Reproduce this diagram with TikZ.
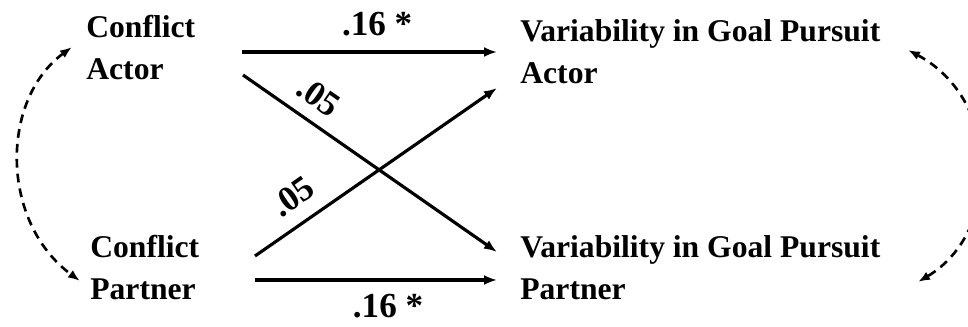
\documentclass[tikz,border=0pt]{standalone}
\usepackage{fontspec}
\setmainfont{Liberation Serif}
\usetikzlibrary{arrows.meta, positioning, calc}

\begin{document}
\begin{tikzpicture}[
		x=0.02cm, y=-0.02cm,
		% Estilos del modelo actor-partner
		var/.style = {inner sep=0pt, anchor=base west, align=left, font=\fontsize{18}{24}\selectfont\bfseries},
		coef/.style = {font=\fontsize{20}{24}\selectfont\bfseries, inner sep=3pt},
		path/.style = {line width=1.8pt, -{Latex[length=2.6mm,width=2mm]}},
		cov/.style = {line width=1.5pt, dash pattern=on 5pt off 3.5pt, {Latex[length=2.4mm,width=1.8mm]}-{Latex[length=2.4mm,width=1.8mm]}}
		]
		\useasboundingbox (0,0) rectangle (968,327);
		\clip (0,0) rectangle (968,327);
		
		% --- VARIABLES ---
		% Predictores (izquierda)
		\node [var] (ca) at (86,80) {Conflict\\Actor};
		\node [var] (cp) at (90,300) {Conflict\\Partner};
		
		% Resultados (derecha)
		\node [var] (va) at (520,84) {Variability in Goal Pursuit\\Actor};
		\node [var] (vp) at (520,300) {Variability in Goal Pursuit\\Partner};
		
		% Puntos de salida y llegada de las flechas
		\coordinate (caTop) at (242,52);
		\coordinate (caLow) at (243,75);
		\coordinate (cpHigh) at (255,256);
		\coordinate (cpBot) at (255,280);
		\coordinate (vaTop) at (497,52);
		\coordinate (vaLow) at (497,88);
		\coordinate (vpHigh) at (497,252);
		\coordinate (vpBot) at (497,280);
		
		% --- EFECTOS ACTOR Y PARTNER ---
		\draw [path] (caTop) -- node[coef, above=5pt, pos=0.53] {.16 *} (vaTop);
		\draw [path] (caLow) -- node[coef, above=4pt, sloped, pos=0.24] {.05} (vpHigh);
		\draw [path] (cpHigh) -- node[coef, above=5pt, sloped, pos=0.22] {.05} (vaLow);
		\draw [path] (cpBot) -- node[coef, below=4pt, pos=0.55] {.16 *} (vpBot);
		
		% --- COVARIANZAS ---
		\coordinate (lTop) at (72,47);
		\coordinate (lBot) at (80,281);
		\coordinate (rTop) at (908,50);
		\coordinate (rBot) at (918,282);
		\draw [cov] (lTop) .. controls (0,100) and (0,222) .. (lBot);
		\draw [cov] (rTop) .. controls (1002,100) and (1002,232) .. (rBot);
		
	\end{tikzpicture}
\end{document}
